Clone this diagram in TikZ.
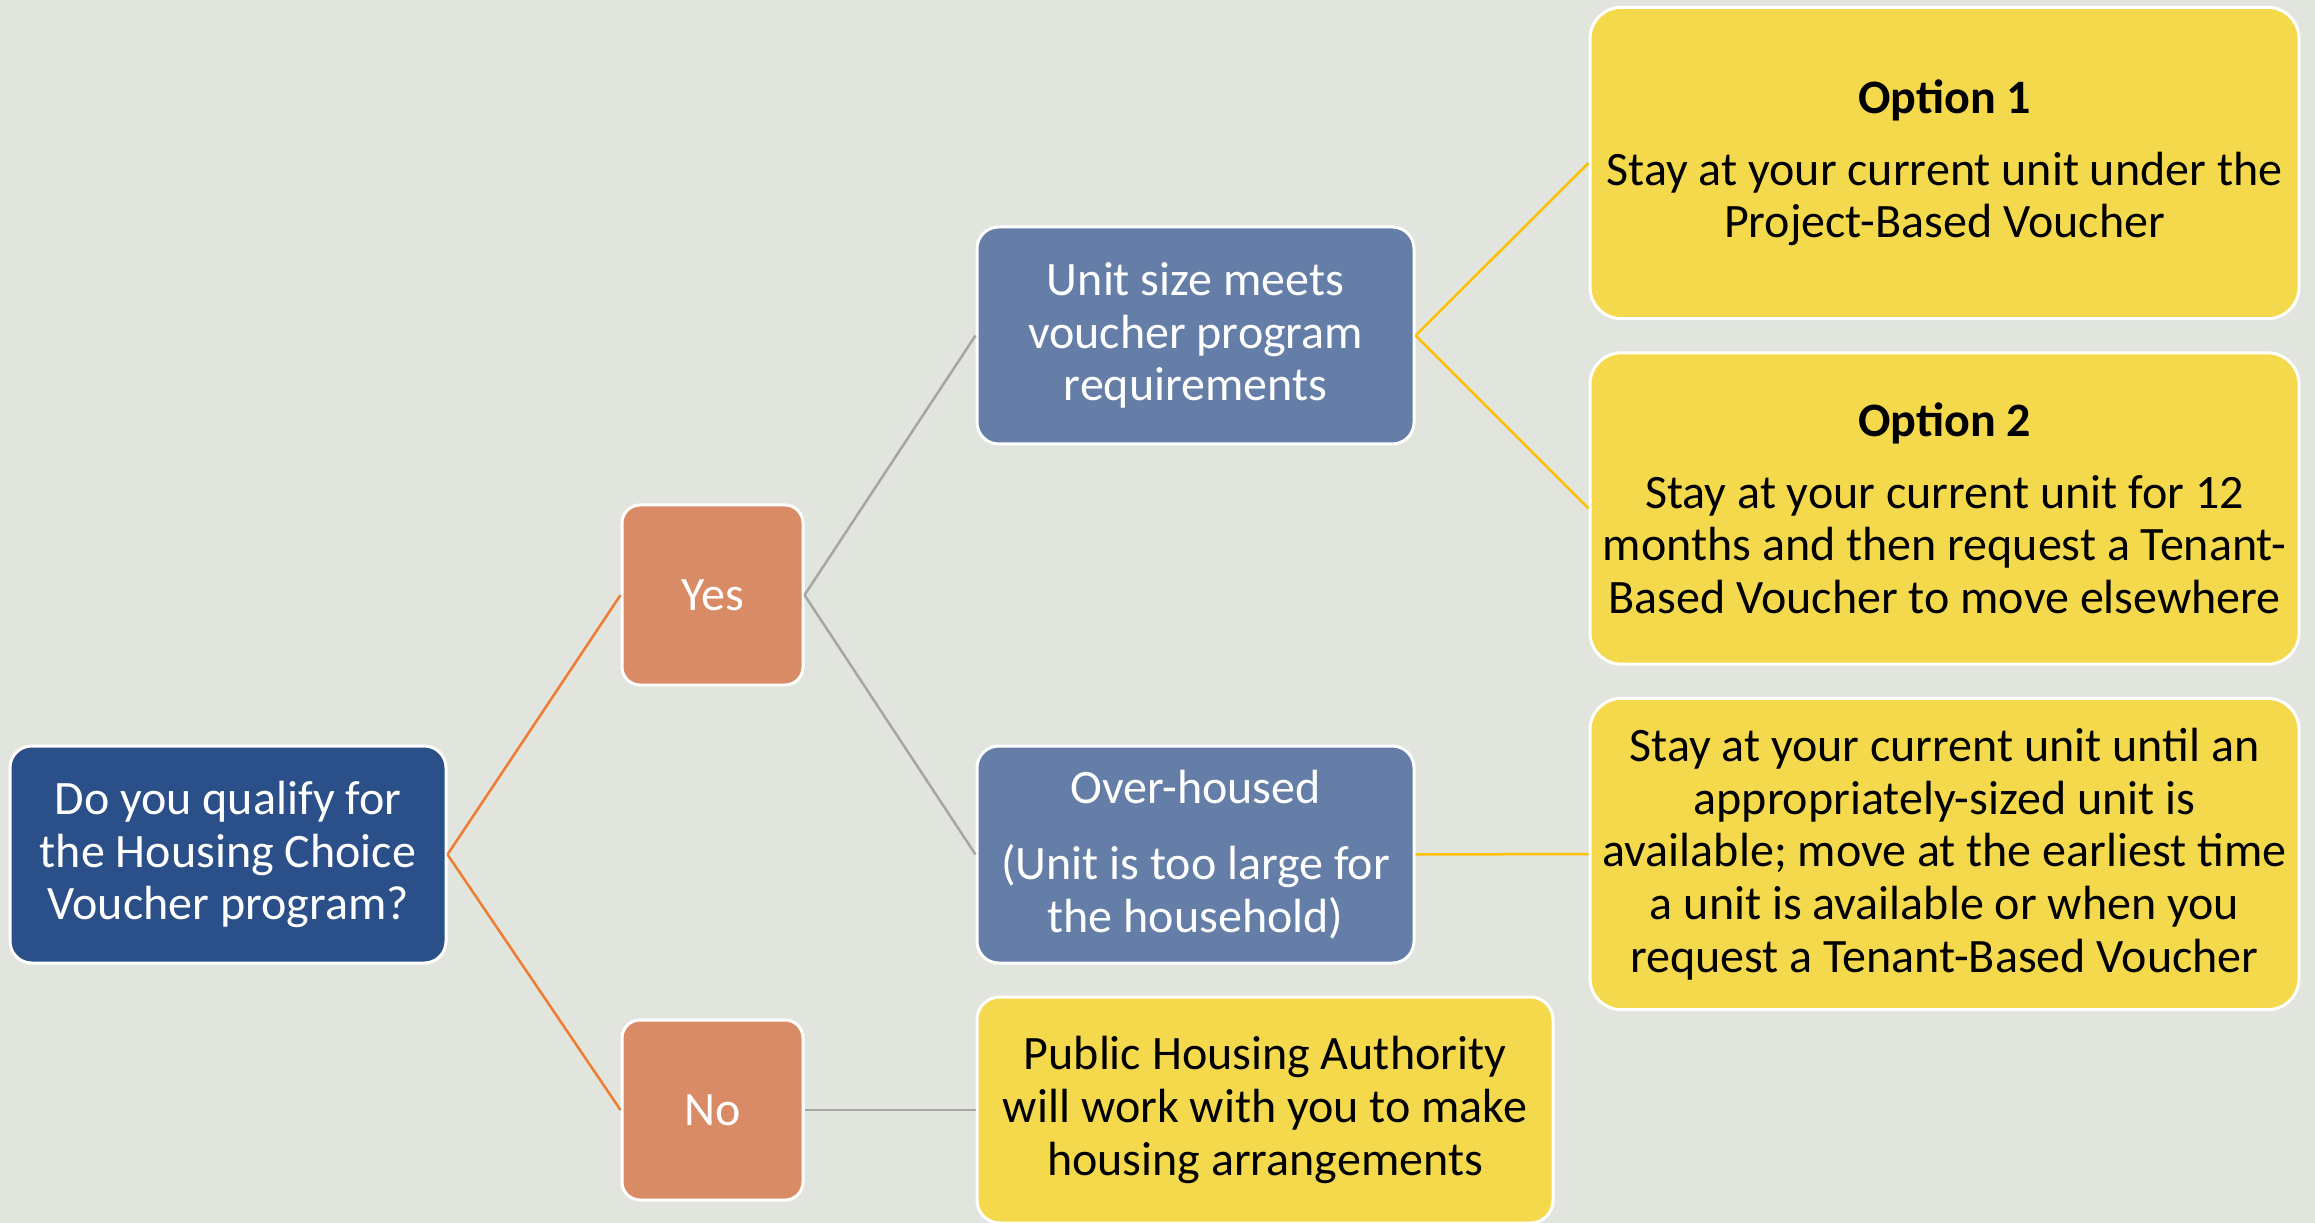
\documentclass[tikz,border=0pt]{standalone}
\usepackage{fontspec}
\setmainfont{Carlito}
\usetikzlibrary{positioning}

\definecolor{paper}{HTML}{E2E5DE}
\definecolor{navy}{HTML}{2B5089}
\definecolor{slate}{HTML}{647EA7}
\definecolor{peach}{HTML}{D98B66}
\definecolor{lemon}{HTML}{F5D94C}
\definecolor{orangeln}{HTML}{ED7D31}
\definecolor{goldln}{HTML}{FFC000}
\definecolor{greyln}{HTML}{A5A5A5}

\begin{document}
\begin{tikzpicture}[x=0.3pt, y=-0.3pt,
    box/.style={draw=white, line width=0.9pt, align=center, inner sep=0pt,
                font=\fontsize{14.4}{15.8}\selectfont},
    question/.style={box, fill=navy, text=white, rounded corners=6.5pt,
                     minimum width=130.8pt, minimum height=65.1pt},
    answer/.style={box, fill=peach, text=white, rounded corners=5.4pt,
                   minimum width=54.3pt, minimum height=54pt},
    unitbox/.style={box, fill=slate, text=white, rounded corners=6.5pt,
                    minimum width=131.1pt, minimum height=65.1pt},
    outcome/.style={box, fill=lemon, text=black, rounded corners=9.4pt,
                    minimum width=212.7pt, minimum height=93.4pt},
    link/.style={line width=0.75pt}]

    \useasboundingbox[fill=paper] (0,0) rectangle (2315,1223);

    \node[question] (qualify) at (228,854.5) {Do you qualify for\\the Housing Choice\\Voucher program?};
    \node[answer] (yes) at (712.5,595) {Yes};
    \node[answer] (no) at (712.5,1110) {No};
    \node[unitbox] (meets) at (1195.5,335.5) {Unit size meets\\voucher program\\requirements};
    \node[unitbox] (over) at (1195.5,854.5) {Over-housed\\[7pt](Unit is too large for\\the household)};
    \node[outcome] (opt1) at (1944.5,163) {\textbf{Option 1}\\[5.6pt]Stay at your current unit under the\\Project-Based Voucher};
    \node[outcome] (opt2) at (1944.5,508.5) {\textbf{Option 2}\\[5.6pt]Stay at your current unit for 12\\months and then request a Tenant-\\Based Voucher to move elsewhere};
    \node[outcome] (wait) at (1944.5,854) {Stay at your current unit until an\\appropriately-sized unit is\\available; move at the earliest time\\a unit is available or when you\\request a Tenant-Based Voucher};
    \node[outcome, minimum width=172.8pt, minimum height=67.8pt, rounded corners=6.8pt] (pha) at (1265,1110) {Public Housing Authority\\will work with you to make\\housing arrangements};

    % first split
    \draw[link, orangeln] (qualify.east) -- (yes.west);
    \draw[link, orangeln] (qualify.east) -- (no.west);
    % second split
    \draw[link, greyln] (yes.east) -- (meets.west);
    \draw[link, greyln] (yes.east) -- (over.west);
    \draw[link, greyln] (no.east) -- (pha.west);
    % outcomes
    \draw[link, goldln] (meets.east) -- (opt1.west);
    \draw[link, goldln] (meets.east) -- (opt2.west);
    \draw[link, goldln] (over.east) -- (wait.west);
\end{tikzpicture}
\end{document}
